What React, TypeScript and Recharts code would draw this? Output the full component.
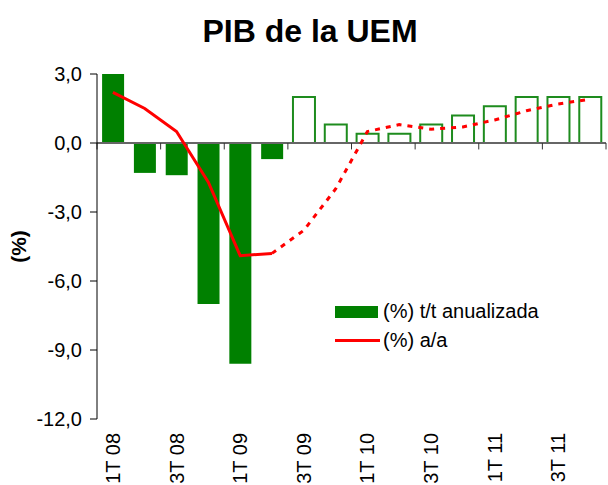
import React from 'react';
import { ComposedChart, Bar, Line, Cell, XAxis, YAxis, ReferenceLine } from 'recharts';

const quarters = ['1T 08', '2T 08', '3T 08', '4T 08', '1T 09', '2T 09', '3T 09', '4T 09',
  '1T 10', '2T 10', '3T 10', '4T 10', '1T 11', '2T 11', '3T 11', '4T 11'];
// (%) t/t anualizada
const ttAnualizada = [3.1, -1.3, -1.4, -7.0, -9.6, -0.7, 2.0, 0.8, 0.4, 0.4, 0.8, 1.2, 1.6, 2.0, 2.0, 2.0];
// (%) a/a, observed part and forecast part
const aaObservado = [2.2, 1.5, 0.5, -1.7, -4.9, -4.8, null, null, null, null, null, null, null, null, null, null];
const aaPrevision = [null, null, null, null, null, -4.8, -3.8, -2.0, 0.5, 0.8, 0.6, 0.7, 1.0, 1.4, 1.7, 1.9];
const observedCount = 6;
const yTicks = [-12, -9, -6, -3, 0, 3];
// boundaries where small ticks sit on the zero line
const boundaryTicks = ['1T 08', '3T 08', '1T 09', '3T 09', '1T 10', '3T 10', '1T 11', '3T 11'];

const data = quarters.map((q, i) => ({
  q,
  tt: ttAnualizada[i],
  aa: aaObservado[i],
  aaF: aaPrevision[i],
}));

const FONT = 'Liberation Sans, Arial, sans-serif';
const GREEN = '#008000';
const RED = '#ff0000';

const fmt = (v: number) => v.toFixed(1).replace('.', ',');

function XTick({ x, y, payload }: any) {
  return (
    <text x={x} y={y} transform={`rotate(-90, ${x}, ${y})`} textAnchor="end"
      dominantBaseline="central" fontSize={20} fontFamily={FONT} fill="#000">
      {payload.value}
    </text>
  );
}

function YLabel({ viewBox }: any) {
  const cy = viewBox.y + viewBox.height / 2;
  return (
    <text x={18} y={cy} transform={`rotate(-90, 18, ${cy})`} textAnchor="middle"
      dominantBaseline="central" fontSize={21} fontWeight="bold" fontFamily={FONT} fill="#000">
      (%)
    </text>
  );
}

function LegendBox() {
  const row = { display: 'flex', alignItems: 'center', height: 29 } as const;
  return (
    <div style={{ position: 'absolute', left: 335, top: 297, fontFamily: FONT, fontSize: 20, color: '#000' }}>
      <div style={row}>
        <span style={{ width: 43, height: 12, background: GREEN, marginRight: 5 }} />
        <span>(%) t/t anualizada</span>
      </div>
      <div style={row}>
        <span style={{ width: 45, height: 3, background: RED, marginRight: 3 }} />
        <span>(%) a/a</span>
      </div>
    </div>
  );
}

export default function App() {
  return (
    <div style={{ position: 'absolute', left: 0, top: 0, width: 608, height: 485, background: '#fff' }}>
      <div style={{
        position: 'absolute', left: 0, top: 15, width: 620, textAlign: 'center',
        fontFamily: FONT, fontSize: 32, lineHeight: '32px', fontWeight: 'bold', color: '#000',
      }}>
        PIB de la UEM
      </div>
      <ComposedChart width={608} height={485} data={data} barCategoryGap="16%"
        margin={{ top: 74, right: 2, left: 0, bottom: 6 }}>
        <XAxis dataKey="q" height={60} interval={1} axisLine={false} tickLine={false}
          tickMargin={8} tick={<XTick />} />
        <YAxis domain={[-12, 3]} ticks={yTicks} allowDataOverflow width={97}
          tickFormatter={fmt} tickSize={7} tickMargin={8}
          tick={{ fontSize: 20, fontFamily: FONT, fill: '#000' }}
          axisLine={{ stroke: '#000' }} tickLine={{ stroke: '#000' }}
          label={{ content: <YLabel /> }} />
        <ReferenceLine y={0} stroke="#666" strokeWidth={2} />
        {boundaryTicks.map((q) => (
          <ReferenceLine key={q} segment={[{ x: q, y: 0 }, { x: q, y: -0.28 }]}
            position="start" stroke="#333" strokeWidth={1} ifOverflow="visible" />
        ))}
        <ReferenceLine segment={[{ x: '4T 11', y: 0 }, { x: '4T 11', y: -0.28 }]}
          position="end" stroke="#333" strokeWidth={1} ifOverflow="visible" />
        <Bar dataKey="tt" isAnimationActive={false}>
          {data.map((d, i) => (
            <Cell key={d.q}
              fill={i < observedCount ? GREEN : '#fff'}
              stroke={i < observedCount ? 'none' : '#1e8c1e'}
              strokeWidth={i < observedCount ? 0 : 2} />
          ))}
        </Bar>
        <Line dataKey="aa" stroke={RED} strokeWidth={3} dot={false} type="linear"
          connectNulls={false} isAnimationActive={false} />
        <Line dataKey="aaF" stroke={RED} strokeWidth={3} strokeDasharray="5 6" dot={false}
          type="linear" connectNulls={false} isAnimationActive={false} />
      </ComposedChart>
      <LegendBox />
    </div>
  );
}
